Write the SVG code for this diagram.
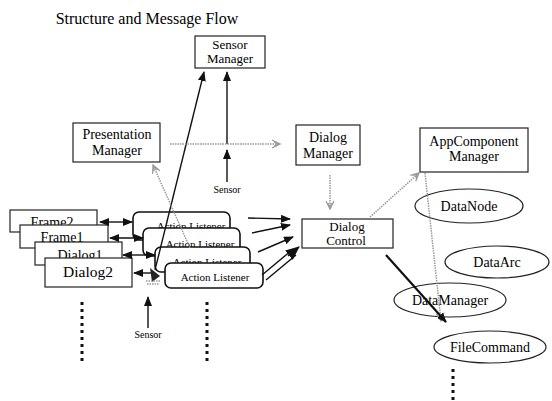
<svg xmlns="http://www.w3.org/2000/svg" width="552" height="401" viewBox="0 0 552 401">
<style>
text{font-family:"Liberation Serif","Times New Roman",serif;fill:#000;text-anchor:middle}
.lbl{font-size:14px}
.tight{font-size:13px}
.sm{font-size:10px}
.al{font-size:11px}
.box{fill:#fff;stroke:#222;stroke-width:1.2}
.rbox{fill:#fff;stroke:#111;stroke-width:1.6}
.blk{stroke:#111;stroke-width:1.4;fill:none}
.gry{stroke:#999;stroke-width:1.5;stroke-dasharray:1.5 1;fill:none}
.dots{stroke:#111;stroke-width:3;stroke-dasharray:3 4;fill:none}
</style>
<defs>
<marker id="ah" markerUnits="userSpaceOnUse" markerWidth="10" markerHeight="8" refX="9" refY="4" orient="auto-start-reverse"><path d="M0,0 L10,4 L0,8 z" fill="#111"/></marker>
<marker id="ahb" markerUnits="userSpaceOnUse" markerWidth="14" markerHeight="12" refX="13" refY="6" orient="auto"><path d="M0,0 L14,6 L0,12 z" fill="#111"/></marker>
<marker id="gh" markerUnits="userSpaceOnUse" markerWidth="10" markerHeight="10" refX="9" refY="5" orient="auto"><path d="M1,1 L9,5 L1,9 M3,3 L7,5 L3,7" fill="none" stroke="#999" stroke-width="1.2"/></marker>
</defs>
<text x="147" y="24" style="font-size:16px">Structure and Message Flow</text>

<g id="sensor-manager"><rect class="box" x="195" y="36" width="70" height="32"/><text class="tight" x="230" y="49">Sensor</text><text class="tight" x="230" y="63">Manager</text></g>
<g id="presentation-manager"><rect class="box" x="73" y="123" width="87" height="39"/><text class="lbl" x="117" y="139">Presentation</text><text class="lbl" x="117" y="155">Manager</text></g>
<g id="dialog-manager"><rect class="box" x="296" y="125" width="64" height="40"/><text class="lbl" x="328" y="142">Dialog</text><text class="lbl" x="328" y="158">Manager</text></g>
<g id="appcomponent-manager"><rect class="box" x="420" y="128" width="108" height="44"/><text class="lbl" x="474" y="146">AppComponent</text><text class="lbl" x="474" y="161">Manager</text></g>
<g id="dialog-control"><rect class="box" x="302" y="219" width="91" height="29"/><text class="tight" x="347" y="231">Dialog</text><text class="tight" x="346" y="245">Control</text></g>

<g id="frame2"><rect class="box" x="10" y="210" width="87" height="22"/><text class="lbl" x="52" y="227">Frame2</text></g>
<g id="frame1"><rect class="box" x="20" y="225" width="88" height="23"/><text class="lbl" x="62" y="242">Frame1</text></g>
<g id="dialog1"><rect class="box" x="35" y="242" width="87" height="23"/><text class="lbl" x="80" y="260">Dialog1</text></g>
<g id="dialog2"><rect class="box" x="45" y="258" width="87" height="29"/><text class="lbl" x="88" y="277" style="font-size:15.5px">Dialog2</text></g>

<g id="action-listener-1"><rect class="rbox" x="133" y="212" width="97" height="28" rx="6"/><text class="al" x="191" y="230">Action Listener</text></g>
<g id="action-listener-2"><rect class="rbox" x="143" y="228" width="97" height="28" rx="6"/><text class="al" x="200" y="248">Action Listener</text></g>
<g id="action-listener-3"><rect class="rbox" x="155" y="247" width="95" height="25" rx="6"/><text class="al" x="207" y="266">Action Listener</text></g>
<g id="action-listener-4"><rect class="rbox" x="165" y="263" width="98" height="25" rx="6"/><text class="al" x="215" y="281">Action Listener</text></g>

<g id="datanode"><ellipse class="box" cx="469" cy="206" rx="54" ry="17"/><text class="lbl" x="469" y="211">DataNode</text></g>
<g id="dataarc"><ellipse class="box" cx="497" cy="262" rx="52" ry="16"/><text class="lbl" x="497" y="267">DataArc</text></g>
<g id="datamanager"><ellipse class="box" cx="450" cy="300" rx="56" ry="17"/><text class="lbl" x="450" y="305">DataManager</text></g>
<g id="filecommand"><ellipse class="box" cx="490" cy="347" rx="56" ry="16"/><text class="lbl" x="490" y="352">FileCommand</text></g>

<g id="connectors">
<line class="blk" x1="155" y1="270" x2="204" y2="72" marker-end="url(#ah)"/>
<line class="blk" x1="227" y1="144" x2="227" y2="72" marker-end="url(#ah)"/>
<line class="blk" x1="227" y1="182" x2="227" y2="150" marker-end="url(#ah)"/>
<text class="sm" x="227" y="193">Sensor</text>
<line class="gry" x1="170" y1="144" x2="280" y2="144" marker-end="url(#gh)"/>
<line class="gry" x1="330" y1="175" x2="330" y2="209" marker-end="url(#gh)"/>
<line class="gry" x1="370" y1="217" x2="419" y2="173" marker-end="url(#gh)"/>
<line class="gry" x1="190" y1="248" x2="153" y2="165" marker-end="url(#gh)"/>
<line class="gry" x1="425" y1="173" x2="441" y2="321" marker-end="url(#gh)"/>
<line class="blk" x1="386" y1="255" x2="446" y2="322" style="stroke-width:2.2" marker-end="url(#ah)"/>
<line class="blk" x1="100" y1="222" x2="132" y2="222" marker-start="url(#ah)" marker-end="url(#ah)"/>
<line class="blk" x1="110" y1="238" x2="143" y2="238" marker-start="url(#ah)" marker-end="url(#ah)"/>
<line class="blk" x1="123" y1="255" x2="155" y2="255" marker-start="url(#ah)" marker-end="url(#ah)"/>
<line class="blk" x1="134" y1="273" x2="155" y2="273" marker-start="url(#ah)"/>
<path d="M150,268 L160,276 L152,282 z" fill="#222"/>
<path class="gry" d="M146,281 L160,281 M147,284 L159,284"/>
<line class="blk" x1="248" y1="218" x2="290" y2="219" marker-end="url(#ah)"/>
<line class="blk" x1="252" y1="233" x2="290" y2="225" marker-end="url(#ah)"/>
<line class="blk" x1="258" y1="252" x2="293" y2="237" marker-end="url(#ah)"/>
<line class="blk" x1="262" y1="275" x2="292" y2="250"/>
<line class="blk" x1="266" y1="280" x2="296" y2="255"/>
<line class="blk" x1="288" y1="256" x2="299" y2="247" marker-end="url(#ahb)"/>
<line class="blk" x1="148" y1="328" x2="148" y2="297" marker-end="url(#ah)"/>
<text class="sm" x="148" y="338">Sensor</text>
<line class="dots" x1="82" y1="302" x2="82" y2="362"/>
<line class="dots" x1="207" y1="302" x2="207" y2="362"/>
<line class="dots" x1="453" y1="369" x2="453" y2="400"/>
</g>
</svg>
